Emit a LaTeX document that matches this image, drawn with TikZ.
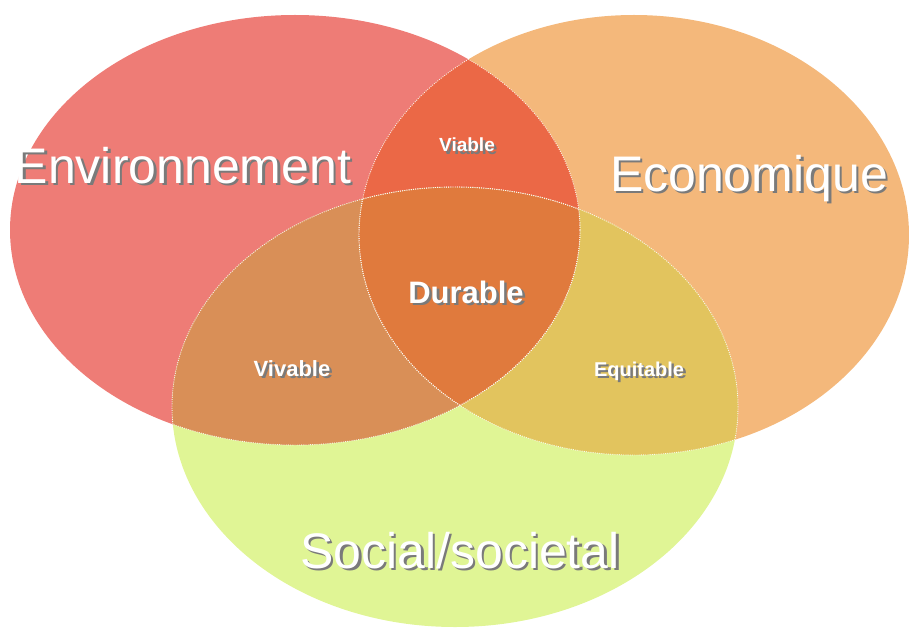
\documentclass[tikz,border=0pt]{standalone}
\usepackage{fontspec}
\setmainfont{Liberation Sans}
\definecolor{redc}{HTML}{EE7C76}
\definecolor{orc}{HTML}{F4B87B}
\definecolor{grc}{HTML}{E0F595}
\definecolor{viabc}{HTML}{EB6846}
\definecolor{vivc}{HTML}{D98F57}
\definecolor{equc}{HTML}{E2C45E}
\definecolor{durc}{HTML}{E07A3D}
\definecolor{shadowgray}{HTML}{7A7A7A}
\newcommand\shd[1]{\makebox[0pt][l]{\hspace{2.6pt}\raisebox{-2.6pt}{\textcolor{shadowgray}{#1}}}\textcolor{white}{#1}}
\tikzset{
  redE/.style={insert path={(295,230) ellipse [x radius=285pt, y radius=215pt]}},
  orE/.style={insert path={(634,235) ellipse [x radius=275pt, y radius=220pt]}},
  grE/.style={insert path={(455,407) ellipse [x radius=283pt, y radius=220pt]}},
  bord/.style={draw=white, line width=0.9pt, dash pattern=on 0.9pt off 1.3pt, opacity=0.85},
  biglabel/.style={anchor=base, inner sep=0pt, font=\fontsize{50}{60}\selectfont},
  durlabel/.style={anchor=base, inner sep=0pt, font=\bfseries\fontsize{31}{36}\selectfont},
  smalllabel/.style={anchor=base, inner sep=0pt, font=\bfseries\fontsize{20}{24}\selectfont},
}
\begin{document}
\begin{tikzpicture}[x=1pt,y=-1pt]
\useasboundingbox (0,0) rectangle (909,631);
% base fills
\fill[redc, redE];
\fill[orc, orE];
\fill[grc, grE];
% pairwise overlaps
\begin{scope}
  \clip[redE];
  \fill[viabc, orE];
  \fill[vivc, grE];
\end{scope}
\begin{scope}
  \clip[orE];
  \fill[equc, grE];
\end{scope}
% triple overlap
\begin{scope}
  \clip[redE];
  \clip[orE];
  \fill[durc, grE];
\end{scope}
% dotted inner borders
\begin{scope}
  \clip[orE];
  \path[bord, redE];
  \path[bord, grE];
\end{scope}
\begin{scope}
  \clip[grE];
  \path[bord, redE];
  \path[bord, orE];
\end{scope}
\begin{scope}
  \clip[redE];
  \path[bord, orE];
  \path[bord, grE];
\end{scope}
% labels
\node[biglabel] (env) at (183,183) {\shd{Environnement}};
\node[biglabel] (eco) at (749,191) {\shd{Economique}};
\node[biglabel] (soc) at (460,568) {\shd{Social/societal}};
\node[durlabel] (dur) at (466,303) {\shd{Durable}};
\node[smalllabel, font=\bfseries\fontsize{19}{22}\selectfont] (viab) at (467,152) {\shd{Viable}};
\node[smalllabel, font=\bfseries\fontsize{22}{26}\selectfont] (viv) at (292,376) {\shd{Vivable}};
\node[smalllabel] (equ) at (639,376) {\shd{Equitable}};
\end{tikzpicture}
\end{document}
